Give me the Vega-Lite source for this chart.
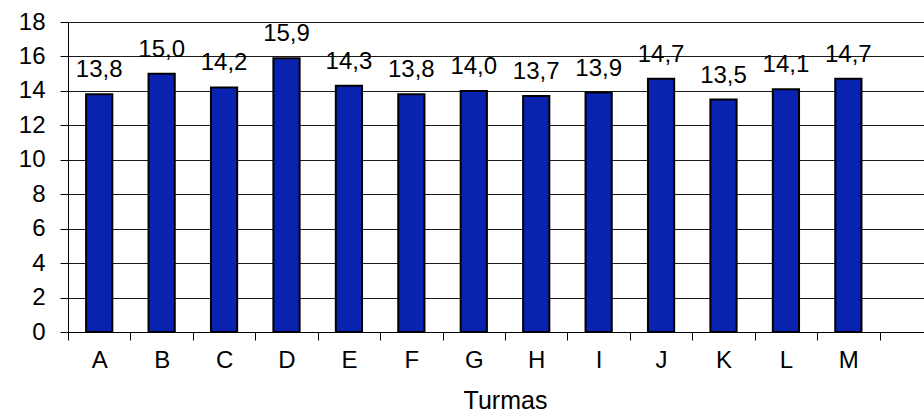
{
  "$schema": "https://vega.github.io/schema/vega-lite/v6.json",
  "autosize": "none",
  "width": 856,
  "height": 310,
  "padding": {"left": 68, "top": 22, "right": 0, "bottom": 84},
  "background": "white",
  "config": {
    "view": {"stroke": null},
    "font": "Liberation Sans",
    "axis": {"labelFontSize": 24, "titleFontSize": 25, "labelColor": "black", "titleColor": "black", "titleFontWeight": "normal"},
    "locale": {"number": {"decimal": ",", "thousands": ".", "grouping": [3], "currency": ["", ""]}}
  },
  "data": {"values": [
    {"turma": "A", "valor": 13.8},
    {"turma": "B", "valor": 15.0},
    {"turma": "C", "valor": 14.2},
    {"turma": "D", "valor": 15.9},
    {"turma": "E", "valor": 14.3},
    {"turma": "F", "valor": 13.8},
    {"turma": "G", "valor": 14.0},
    {"turma": "H", "valor": 13.7},
    {"turma": "I", "valor": 13.9},
    {"turma": "J", "valor": 14.7},
    {"turma": "K", "valor": 13.5},
    {"turma": "L", "valor": 14.1},
    {"turma": "M", "valor": 14.7}
  ]},
  "encoding": {
    "x": {
      "field": "turma", "type": "nominal",
      "scale": {"domain": ["A","B","C","D","E","F","G","H","I","J","K","L","M","_"], "range": [0, 874], "paddingInner": 0.58, "paddingOuter": 0.29},
      "axis": {
        "title": "Turmas", "titleFontSize": 25, "titleFontWeight": "normal", "titleColor": "black", "titlePadding": 16,
        "labelAngle": 0, "labelFontSize": 24, "labelColor": "black", "labelPadding": 8,
        "labelExpr": "datum.value == '_' ? '' : datum.value",
        "tickOffset": -31.2, "labelOffset": 31.2,
        "domainColor": "black", "tickColor": "black", "tickSize": 8, "grid": false
      }
    },
    "y": {
      "field": "valor", "type": "quantitative",
      "scale": {"domain": [0, 18], "nice": false},
      "axis": {
        "title": null, "values": [0,2,4,6,8,10,12,14,16,18], "labelOverlap": false,
        "labelFontSize": 24, "labelColor": "black", "labelPadding": 15,
        "domainColor": "black", "tickColor": "black", "tickSize": 8,
        "grid": true, "gridColor": "#1a1a1a", "gridWidth": 1
      }
    }
  },
  "layer": [
    {
      "mark": {"type": "bar", "fill": "#0a22b0", "stroke": "black", "strokeWidth": 2}
    },
    {
      "mark": {"type": "text", "baseline": "alphabetic", "dy": -17, "fontSize": 24, "color": "black"},
      "encoding": {
        "text": {"field": "valor", "type": "quantitative", "format": ".1f"}
      }
    }
  ]
}
